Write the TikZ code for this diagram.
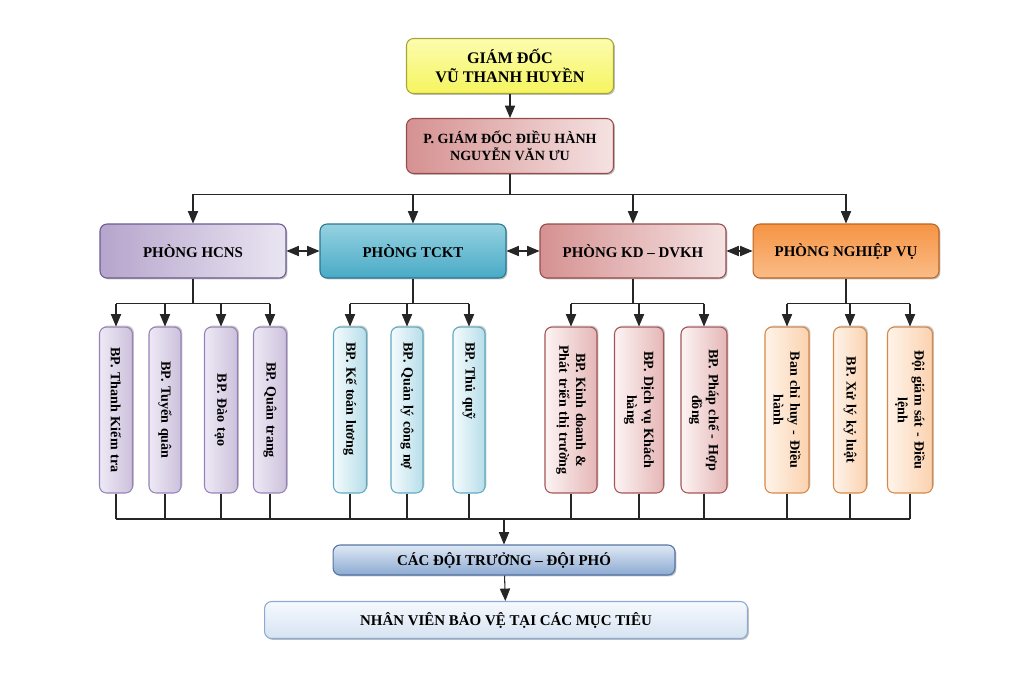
\documentclass[tikz,border=0pt]{standalone}
\usepackage{fontspec}
\setmainfont{Liberation Serif}
\usetikzlibrary{arrows,shadows,positioning}
\definecolor{gdfill}{RGB}{245,245,95}
\definecolor{gdlight}{RGB}{252,252,175}
\definecolor{gdline}{RGB}{165,165,60}
\definecolor{kdmid}{RGB}{214,145,145}
\definecolor{kdlight}{RGB}{245,226,226}
\definecolor{kdline}{RGB}{150,75,75}
\definecolor{hcnsmid}{RGB}{182,165,204}
\definecolor{hcnslight}{RGB}{234,229,242}
\definecolor{hcnsline}{RGB}{110,90,145}
\definecolor{tcktmid}{RGB}{72,170,197}
\definecolor{tcktlight}{RGB}{150,210,226}
\definecolor{tcktline}{RGB}{40,120,145}
\definecolor{nvmid}{RGB}{246,148,68}
\definecolor{nvlight}{RGB}{250,188,135}
\definecolor{nvline}{RGB}{190,100,30}
\definecolor{hsubtop}{RGB}{238,233,245}
\definecolor{hsubbot}{RGB}{204,193,220}
\definecolor{hsubline}{RGB}{150,130,185}
\definecolor{tsubtop}{RGB}{245,251,253}
\definecolor{tsubbot}{RGB}{182,222,233}
\definecolor{tsubline}{RGB}{95,170,195}
\definecolor{ksubtop}{RGB}{253,244,244}
\definecolor{ksubbot}{RGB}{229,182,182}
\definecolor{ksubline}{RGB}{165,85,85}
\definecolor{nsubtop}{RGB}{254,244,234}
\definecolor{nsubbot}{RGB}{251,210,175}
\definecolor{nsubline}{RGB}{215,135,70}
\definecolor{doitop}{RGB}{222,232,244}
\definecolor{doibot}{RGB}{140,170,210}
\definecolor{doiline}{RGB}{85,115,165}
\definecolor{nvbvtop}{RGB}{246,249,253}
\definecolor{nvbvbot}{RGB}{214,227,242}
\definecolor{nvbvline}{RGB}{140,170,210}

\begin{document}
\begin{tikzpicture}[x=0.02cm,y=-0.02cm,semithick,-triangle 45,
    font=\bfseries\fontsize{8.5}{10}\selectfont]
  \useasboundingbox (0,0) rectangle (1024,674);

  \tikzstyle{box}=[draw,shape=rectangle,rounded corners=4pt,align=center,inner sep=2pt]
  \tikzstyle{shadowed}=[drop shadow={shadow xshift=.8pt,shadow yshift=-.8pt,fill=black!50}]
  \tikzstyle{topbox}=[box,shadowed,minimum width=4.14cm,minimum height=1.1cm]
  \tikzstyle{deptbox}=[box,shadowed,minimum width=3.72cm,minimum height=1.08cm]
  \tikzstyle{subbox}=[box,rotate=-90,minimum width=3.32cm,text width=3.0cm,
    font=\bfseries\fontsize{8}{9.6}\selectfont,
    drop shadow={shadow xshift=.8pt,shadow yshift=.8pt,fill=black!45}]
  \tikzstyle{gdbox}=[topbox,draw=gdline,top color=gdlight,bottom color=gdfill,
    font=\bfseries\fontsize{9.2}{11}\selectfont]
  \tikzstyle{pgdbox}=[topbox,draw=kdline,left color=kdmid,right color=kdlight,
    font=\bfseries\fontsize{8}{9.6}\selectfont]
  \tikzstyle{hcnsbox}=[deptbox,draw=hcnsline,left color=hcnsmid,right color=hcnslight]
  \tikzstyle{tcktbox}=[deptbox,draw=tcktline,top color=tcktlight,bottom color=tcktmid]
  \tikzstyle{kdbox}=[deptbox,draw=kdline,left color=kdmid,right color=kdlight]
  \tikzstyle{nvbox}=[deptbox,draw=nvline,top color=nvmid,bottom color=nvlight]
  \tikzstyle{hsub}=[subbox,draw=hsubline,left color=hsubtop,right color=hsubbot]
  \tikzstyle{tsub}=[subbox,draw=tsubline,left color=tsubtop,right color=tsubbot,
    align=left,text width=2.7cm]
  \tikzstyle{ksub}=[subbox,draw=ksubline,left color=ksubtop,right color=ksubbot]
  \tikzstyle{nsub}=[subbox,draw=nsubline,left color=nsubtop,right color=nsubbot]

  \node[gdbox]   (gd)   at (510,66)  {GIÁM ĐỐC\\VŨ THANH HUYỀN};
  \node[pgdbox]  (pgd)  at (510,146) {P. GIÁM ĐỐC ĐIỀU HÀNH\\NGUYỄN VĂN ƯU};

  \node[hcnsbox] (hcns) at (193,251) {PHÒNG HCNS};
  \node[tcktbox] (tckt) at (413,251) {PHÒNG TCKT};
  \node[kdbox]   (kd)   at (633,251) {PHÒNG KD -- DVKH};
  \node[nvbox]   (nv)   at (846,251) {PHÒNG NGHIỆP VỤ};

  \node[hsub,minimum height=.66cm] (h1) at (116,410) {BP. Thanh Kiểm tra};
  \node[hsub,minimum height=.64cm] (h2) at (165,410) {BP. Tuyển quân};
  \node[hsub,minimum height=.66cm] (h3) at (221,410) {BP. Đào tạo};
  \node[hsub,minimum height=.66cm] (h4) at (270,410) {BP. Quân trang};
  \node[tsub,minimum height=.66cm] (t1) at (350,410) {BP. Kế toán lương};
  \node[tsub,minimum height=.64cm] (t2) at (407,410) {BP. Quản lý công nợ};
  \node[tsub,minimum height=.64cm] (t3) at (469,410) {BP. Thủ quỹ};
  \node[ksub,minimum height=1.04cm] (k1) at (571,410) {BP. Kinh doanh \&\\Phát triển thị trường};
  \node[ksub,minimum height=.98cm]  (k2) at (639,410) {BP. Dịch vụ Khách\\hàng};
  \node[ksub,minimum height=.92cm]  (k3) at (704,410) {BP. Pháp chế - Hợp\\đồng};
  \node[nsub,minimum height=.88cm]  (n1) at (787,410) {Ban chỉ huy - Điều\\hành};
  \node[nsub,minimum height=.66cm]  (n2) at (850,410) {BP. Xử lý kỷ luật};
  \node[nsub,minimum height=.9cm]   (n3) at (910,410) {Đội giám sát - Điều\\lệnh};

  \node[box,shadowed,draw=doiline,top color=doitop,bottom color=doibot,
        minimum width=6.84cm,minimum height=.6cm]  (doi)  at (504,560) {CÁC ĐỘI TRƯỞNG -- ĐỘI PHÓ};
  \node[box,shadowed,draw=nvbvline,top color=nvbvtop,bottom color=nvbvbot,
        minimum width=9.66cm,minimum height=.74cm] (nvbv) at (506,620) {NHÂN VIÊN BẢO VỆ TẠI CÁC MỤC TIÊU};

  \path[black!85]
    (gd) edge (pgd);
  \draw[black!85,-] (pgd.south) -- ++(0,20) coordinate (split)
                    (hcns |- split) -- (nv |- split);
  \foreach \d in {hcns,tckt,kd,nv}
    \draw[black!85] (\d |- split) -- (\d);

  \draw[black!85,triangle 45-triangle 45] (hcns) -- (tckt);
  \draw[black!85,triangle 45-triangle 45] (tckt) -- (kd);
  \draw[black!85,triangle 45-triangle 45] (kd) -- (nv);

  \draw[black!85,-] (hcns.south) -- ++(0,25) coordinate (hs) (h1 |- hs) -- (h4 |- hs);
  \draw[black!85,-] (tckt.south) -- ++(0,25) coordinate (ts) (t1 |- ts) -- (t3 |- ts);
  \draw[black!85,-] (kd.south)   -- ++(0,25) coordinate (ks) (k1 |- ks) -- (k3 |- ks);
  \draw[black!85,-] (nv.south)   -- ++(0,25) coordinate (ns) (n1 |- ns) -- (n3 |- ns);
  \foreach \s in {h1,h2,h3,h4} \draw[black!85] (\s |- hs) -- (\s);
  \foreach \s in {t1,t2,t3}    \draw[black!85] (\s |- ts) -- (\s);
  \foreach \s in {k1,k2,k3}    \draw[black!85] (\s |- ks) -- (\s);
  \foreach \s in {n1,n2,n3}    \draw[black!85] (\s |- ns) -- (\s);

  \coordinate (bot) at (504,519);
  \draw[black!85,-] (h1 |- bot) -- (n3 |- bot);
  \foreach \s in {h1,h2,h3,h4,t1,t2,t3,k1,k2,k3,n1,n2,n3}
    \draw[black!85,-] (\s) -- (\s |- bot);
  \draw[black!85] (bot) -- (doi);
  \draw[black!85] (doi) -- (nvbv);

\end{tikzpicture}
\end{document}
